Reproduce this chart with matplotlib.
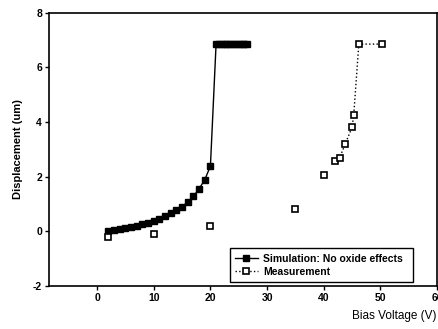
import matplotlib
matplotlib.use("Agg")
import matplotlib.pyplot as plt
from matplotlib.lines import Line2D

plt.rcParams['font.family'] = ['Liberation Sans', 'DejaVu Sans']
plt.rcParams['axes.unicode_minus'] = False

# simulation: no oxide effects
sim_v = [2, 3, 4, 5, 6, 7, 8, 9, 10, 11, 12, 13, 14, 15, 16, 17, 18, 19, 20,
         21, 21.5, 22, 22.5, 23, 23.5, 24, 24.5, 25, 25.5, 26, 26.5]
sim_d = [0.0, 0.03, 0.06, 0.1, 0.14, 0.19, 0.25, 0.31, 0.38, 0.46, 0.55, 0.65,
         0.77, 0.9, 1.06, 1.27, 1.55, 1.88, 2.38,
         6.85, 6.85, 6.85, 6.85, 6.85, 6.85, 6.85, 6.85, 6.85, 6.85, 6.85, 6.85]

# measurement
meas_v = [2, 10, 20, 35, 40, 42, 42.8, 43.8, 45, 45.3, 46.2, 50.3]
meas_d = [-0.2, -0.1, 0.18, 0.82, 2.05, 2.56, 2.68, 3.19, 3.8, 4.25, 6.85, 6.85]
# the dotted line only shows over the upper points
line_from = 5

fig = plt.figure(figsize=(4.39, 3.29), dpi=100)
ax = fig.add_axes([0.1116, 0.1316, 0.8838, 0.8298])

ax.plot(sim_v, sim_d, color='black', lw=1.0, marker='s', ms=4.2,
        mfc='black', mec='black')
ax.plot(meas_v[line_from:], meas_d[line_from:], color='black', lw=1.0, ls=':')
ax.plot(meas_v, meas_d, ls='none', marker='s', ms=4.5, mfc='white',
        mec='black', mew=1.2)

ax.set_xlim(-8.5, 60)
ax.set_ylim(-2, 8)
ax.set_xticks([0, 10, 20, 30, 40, 50, 60])
ax.set_yticks([-2, 0, 2, 4, 6, 8])
ax.tick_params(direction='out', length=3, width=1, labelsize=7.5, pad=2)
for lab in ax.get_xticklabels() + ax.get_yticklabels():
    lab.set_fontweight('bold')
for s in ax.spines.values():
    s.set_linewidth(1.2)

ax.set_ylabel('Displacement (um)', fontsize=8, fontweight='bold', labelpad=7)
ax.set_xlabel('Bias Voltage (V)', fontsize=8.5, labelpad=4)
ax.xaxis.set_label_coords(1.0, -0.09)
ax.xaxis.label.set_horizontalalignment('right')

handles = [
    Line2D([], [], color='black', lw=1.0, marker='s', ms=4.2, mfc='black'),
    Line2D([], [], color='black', lw=1.0, ls=':', marker='s', ms=4.5,
           mfc='white', mew=1.2),
]
leg = ax.legend(handles, ['Simulation: No oxide effects', 'Measurement'],
                loc='lower left', bbox_to_anchor=(0.466, 0.014, 0.472, 0.157),
                mode='expand', fancybox=False, framealpha=1, edgecolor='black',
                prop={'size': 7.5, 'weight': 'bold'}, handlelength=2.2,
                borderpad=0.5, labelspacing=0.3, handletextpad=0.5,
                borderaxespad=0)
leg.get_frame().set_linewidth(1.0)

fig.savefig('out.png', dpi=100)
